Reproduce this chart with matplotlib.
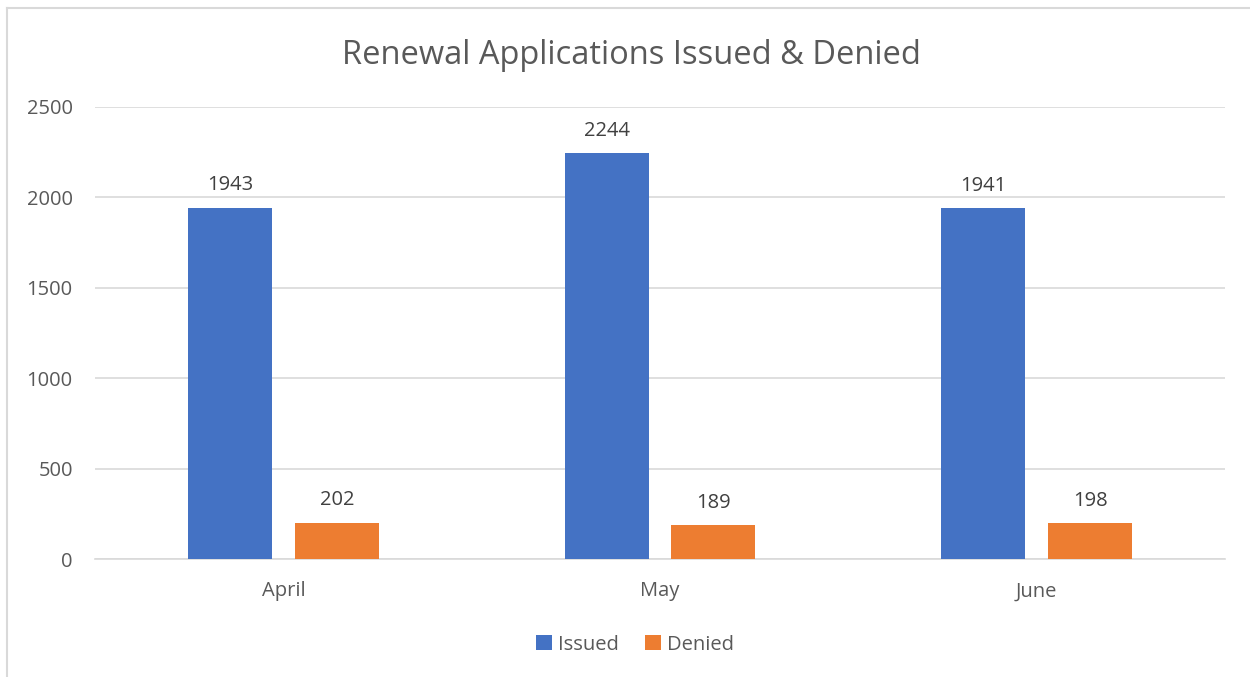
import matplotlib
matplotlib.use("Agg")
import matplotlib.pyplot as plt
from matplotlib.lines import Line2D
import numpy as np

months = ["April", "May", "June"]
issued = [1943, 2244, 1941]
denied = [202, 189, 198]

BLUE = "#4472C4"
ORANGE = "#ED7D31"
TEXT = "#595959"

plt.rcParams["font.family"] = ["Open Sans", "DejaVu Sans"]

fig = plt.figure(figsize=(12.5, 6.77), dpi=100)
ax = fig.add_axes([0.076, 0.174, 0.904, 0.668])

x = np.arange(len(months))
w = 0.223
off = 0.142
b1 = ax.bar(x - off, issued, w, color=BLUE, label="Issued", zorder=3)
b2 = ax.bar(x + off, denied, w, color=ORANGE, label="Denied", zorder=3)

# value labels above each bar
for bars in (b1, b2):
    for r in bars:
        ax.annotate(f"{int(r.get_height())}", (r.get_x() + r.get_width() / 2, r.get_height()),
                    xytext=(0, 9), textcoords="offset points", ha="center", va="bottom",
                    fontsize=14.5, color="#404040")

ax.set_xlim(-0.5, 2.5)
ax.set_ylim(0, 2500)
ax.set_yticks(range(0, 2501, 500))
ax.set_xticks(x)
ax.set_xticklabels(months)
ax.tick_params(axis="both", length=0, labelsize=14.5, labelcolor=TEXT)
ax.tick_params(axis="x", pad=16)
ax.tick_params(axis="y", pad=16)
ax.grid(axis="y", color="#D9D9D9", linewidth=1.2, zorder=0)
for s in ("top", "right", "left"):
    ax.spines[s].set_visible(False)
ax.spines["bottom"].set_color("#D9D9D9")
ax.spines["bottom"].set_linewidth(1.2)

fig.text(0.505, 0.918, "Renewal Applications Issued & Denied", ha="center", va="center",
         fontsize=23.5, color=TEXT)

fig.legend(loc="center", bbox_to_anchor=(0.508, 0.048), ncol=2, frameon=False,
           fontsize=14.5, labelcolor=TEXT, handlelength=0.8, handleheight=0.8,
           handletextpad=0.3, columnspacing=1.3)

# outer chart border
fig.add_artist(Line2D([7 / 1250, 1], [1 - 8 / 677, 1 - 8 / 677], transform=fig.transFigure,
                      color="#D9D9D9", linewidth=1.5))
fig.add_artist(Line2D([7 / 1250, 7 / 1250], [0, 1 - 8 / 677], transform=fig.transFigure,
                      color="#D9D9D9", linewidth=1.5))

fig.savefig("out.png", dpi=100)
